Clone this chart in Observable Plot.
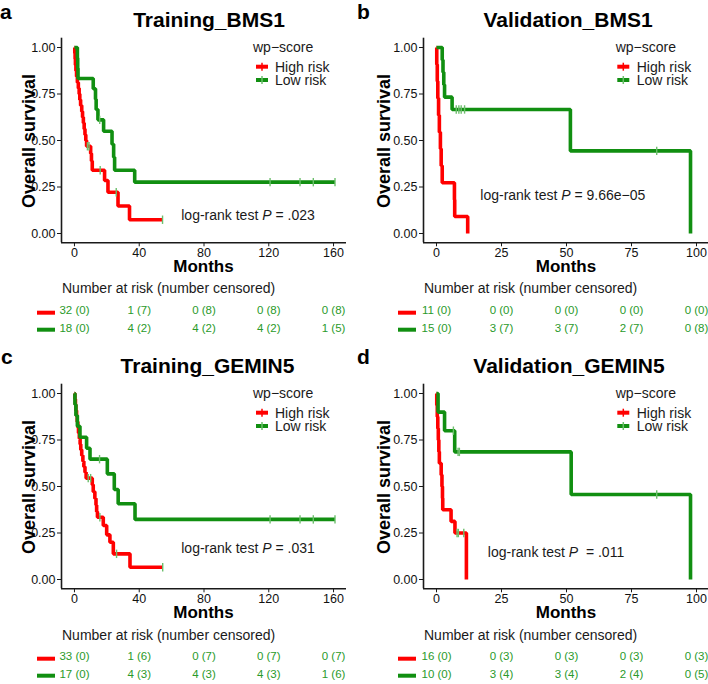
<!DOCTYPE html>
<html>
<head>
<meta charset="utf-8">
<script src="https://cdn.jsdelivr.net/npm/d3@7"></script>
<script src="https://cdn.jsdelivr.net/npm/@observablehq/plot@0.6"></script>
<style>
  body { margin: 0; background: #fff; }
  #fig { position: relative; width: 708px; height: 684px; overflow: hidden; background: #fff; }
</style>
</head>
<body>
<div id="fig"></div>
<script>
// ---------------- DATA ----------------
const groups = ["High risk", "Low risk"];
const yTicks = [0, 0.25, 0.5, 0.75, 1];
const yDomain = [-0.05, 1.05];
const trainTicks = [0, 40, 80, 120, 160];
const validTicks = [0, 25, 50, 75, 100];

// Kaplan-Meier steps: [months, survival]
const aHigh = [[0,1],[0.2,0.969],[0.4,0.938],[0.6,0.906],[0.9,0.875],[1.3,0.844],[1.8,0.812],[2.4,0.781],[2.9,0.75],[3.3,0.719],[3.8,0.688],[4.5,0.656],[5.0,0.625],[5.5,0.594],[6.0,0.562],[6.5,0.531],[7.0,0.5],[7.5,0.469],[10.0,0.43],[10.5,0.39],[11.0,0.34],[18.6,0.285],[20.7,0.222],[26.9,0.148],[34.0,0.074],[54.4,0.074]];
const aHighCens = [8.0, 9.0, 15.9, 25.8, 54.4];
const aLow = [[0,1],[1.8,0.944],[2.0,0.889],[2.2,0.833],[11.6,0.778],[13.0,0.722],[13.4,0.667],[14.5,0.611],[18.0,0.55],[23.2,0.48],[24.2,0.41],[24.8,0.34],[37.2,0.276],[160.9,0.276]];
const aLowCens = [15.6, 120.8, 139.3, 147.5, 160.9];

const bHigh = [[0,1],[0.1,0.909],[0.3,0.818],[0.5,0.727],[0.8,0.636],[1.1,0.545],[1.5,0.455],[1.8,0.364],[2.2,0.273],[6.9,0.182],[7.0,0.091],[12.0,0]];
const bHighCens = [];
const bLow = [[0,1],[2.2,0.933],[2.5,0.867],[2.8,0.8],[3.1,0.733],[6.0,0.667],[51.5,0.444],[97.7,0]];
const bLowCens = [7.6, 8.6, 9.5, 10.8, 84.7];

const cHigh = [[0,1],[0.3,0.97],[0.6,0.939],[0.9,0.909],[1.3,0.879],[1.7,0.848],[2.1,0.818],[2.5,0.788],[3.0,0.758],[3.5,0.727],[3.9,0.697],[4.5,0.667],[5.2,0.636],[5.8,0.606],[6.5,0.576],[7.2,0.545],[11.0,0.509],[11.6,0.472],[12.6,0.436],[13.3,0.4],[13.7,0.364],[14.2,0.335],[17.8,0.29],[19.9,0.24],[21.9,0.2],[24.0,0.138],[34.3,0.066],[54.5,0.066]];
const cHighCens = [8.5, 10.0, 15.7, 26.0, 54.5];
const cLow = [[0,1],[0.3,0.941],[0.9,0.882],[1.8,0.824],[3.4,0.765],[7.5,0.706],[9.6,0.647],[20.3,0.568],[24.6,0.484],[27.0,0.407],[37.4,0.323],[160.9,0.323]];
const cLowCens = [15.5, 120.8, 139.3, 147.5, 160.9];

const dHigh = [[0,1],[0.1,0.9375],[0.3,0.875],[0.5,0.8125],[0.7,0.75],[0.9,0.6875],[1.1,0.625],[1.8,0.5625],[2.1,0.5],[2.3,0.4375],[2.4,0.375],[5.6,0.3125],[7.1,0.25],[11.5,0]];
const dHighCens = [7.9, 8.4, 10.5];
const dLow = [[0,1],[0.6,0.9],[3.1,0.8],[7.0,0.686],[51.8,0.457],[97.7,0]];
const dLowCens = [6.5, 8.3, 8.8, 84.7];

// Number at risk (number censored)
const aRiskHigh = ["32 (0)", "1 (7)", "0 (8)", "0 (8)", "0 (8)"];
const aRiskLow  = ["18 (0)", "4 (2)", "4 (2)", "4 (2)", "1 (5)"];
const bRiskHigh = ["11 (0)", "0 (0)", "0 (0)", "0 (0)", "0 (0)"];
const bRiskLow  = ["15 (0)", "3 (7)", "3 (7)", "2 (7)", "0 (8)"];
const cRiskHigh = ["33 (0)", "1 (6)", "0 (7)", "0 (7)", "0 (7)"];
const cRiskLow  = ["17 (0)", "4 (3)", "4 (3)", "4 (3)", "1 (6)"];
const dRiskHigh = ["16 (0)", "0 (3)", "0 (3)", "0 (3)", "0 (3)"];
const dRiskLow  = ["10 (0)", "3 (4)", "3 (4)", "2 (4)", "0 (5)"];

const titles = ["Training_BMS1", "Validation_BMS1", "Training_GEMIN5", "Validation_GEMIN5"];
const letters = ["a", "b", "c", "d"];
const pTexts = [" = .023", " = 9.66e\u221205", " = .031", "  = .011"];

// ---------------- STYLE ----------------
const FONT = "'Liberation Sans', Arial, Helvetica, sans-serif";
const RED = "#ff0000";
const GREEN = "#118f11";
const CENS = "#6cbf6c";
const RISKTXT = "#2a9a2a";
const INK = "#1a1a1a";

function stepValue(curve, t) {
  let v = curve[0][1];
  for (const [ti, si] of curve) if (ti <= t) v = si;
  return v;
}

const vbar = {
  draw(ctx, size) {
    const r = Math.sqrt(size / Math.PI);
    ctx.moveTo(0, -r);
    ctx.lineTo(0, r);
  }
};

const panels = [
  {left: 0,   top: 0,   width: 354, ml: 61, mr: 8, xDomain: [-8, 168], ticks: trainTicks,
   high: aHigh, low: aLow, highCens: aHighCens, lowCens: aLowCens, riskHigh: aRiskHigh, riskLow: aRiskLow,
   letterX: 0, letterY: 18.5, titleX: 209, legX: 253, keyX: 256, textX: 275, pX: 248, pY: 220, ylabX: 35, nrX: 62, nrY: 292.7, rkX: 37},
  {left: 354, top: 0,   width: 355, ml: 69, mr: 0, xDomain: [-5, 105], ticks: validTicks,
   high: bHigh, low: bLow, highCens: bHighCens, lowCens: bLowCens, riskHigh: bRiskHigh, riskLow: bRiskLow,
   letterX: 3, letterY: 18.5, titleX: 214, legX: 261.7, keyX: 263.3, textX: 282.7, pX: 208.8, pY: 200, ylabX: 36, nrX: 70, nrY: 293.3, rkX: 44},
  {left: 0,   top: 346, width: 354, ml: 61, mr: 8, xDomain: [-8, 168], ticks: trainTicks,
   high: cHigh, low: cLow, highCens: cHighCens, lowCens: cLowCens, riskHigh: cRiskHigh, riskLow: cRiskLow,
   letterX: 1, letterY: 17.5, titleX: 207.5, legX: 253, keyX: 256, textX: 275, pX: 248, pY: 207.3, ylabX: 35, nrX: 62, nrY: 293.5, rkX: 37},
  {left: 354, top: 346, width: 355, ml: 69, mr: 0, xDomain: [-5, 105], ticks: validTicks,
   high: dHigh, low: dLow, highCens: dHighCens, lowCens: dLowCens, riskHigh: dRiskHigh, riskLow: dRiskLow,
   letterX: 3, letterY: 17.5, titleX: 215, legX: 261.7, keyX: 263.3, textX: 282.7, pX: 202, pY: 211.3, ylabX: 36, nrX: 70, nrY: 294, rkX: 44}
];

const fig = document.getElementById("fig");
const H = 340, FT = 37.7, FB = 242.3;

panels.forEach((p, i) => {
  const lines = [
    ...p.high.map(([t, s]) => ({t, s, g: groups[0]})),
    ...p.low.map(([t, s]) => ({t, s, g: groups[1]}))
  ];
  const cens = [
    ...p.highCens.map(t => ({t, s: stepValue(p.high, t), g: groups[0]})),
    ...p.lowCens.map(t => ({t, s: stepValue(p.low, t), g: groups[1]}))
  ];
  const riskH = p.ticks.map((t, k) => ({t, label: p.riskHigh[k]}));
  const riskL = p.ticks.map((t, k) => ({t, label: p.riskLow[k]}));

  const svg = Plot.plot({
    width: p.width, height: H,
    marginLeft: p.ml, marginRight: p.mr, marginTop: FT, marginBottom: H - FB,
    style: {fontFamily: FONT, fontSize: "12px", color: INK, background: "transparent", overflow: "visible"},
    x: {domain: p.xDomain, label: null},
    y: {domain: yDomain, label: null},
    color: {domain: groups, range: [RED, GREEN]},
    marks: [
      Plot.axisX({ticks: p.ticks, tickSize: 4, tickPadding: 1, fontSize: 12.5, label: null, stroke: INK, fill: "#111"}),
      Plot.axisY({ticks: yTicks, tickFormat: d3.format(".2f"), tickSize: 4, tickPadding: 2, fontSize: 12.5, label: null, stroke: INK, fill: "#111"}),
      Plot.ruleX([p.xDomain[0]], {stroke: INK, strokeWidth: 1.6}),
      Plot.ruleY([yDomain[0]], {stroke: INK, strokeWidth: 1.6}),
      Plot.line(lines, {x: "t", y: "s", z: "g", stroke: "g", curve: "step-after", strokeWidth: 3.6, strokeLinejoin: "miter", strokeLinecap: "butt"}),
      Plot.dot(cens, {x: "t", y: "s", symbol: vbar, r: 4.2, stroke: CENS, strokeWidth: 1.4, fill: "none"}),
      Plot.text(riskH, {x: "t", text: "label", frameAnchor: "bottom", dy: 70.9, fill: RISKTXT, fontSize: 11.5}),
      Plot.text(riskL, {x: "t", text: "label", frameAnchor: "bottom", dy: 89.2, fill: RISKTXT, fontSize: 11.5})
    ]
  });
  svg.style.position = "absolute";
  svg.style.left = p.left + "px";
  svg.style.top = p.top + "px";
  fig.appendChild(svg);

  const s = d3.select(svg);
  const txt = (x, y, str, o = {}) => s.append("text")
    .attr("x", x).attr("y", y)
    .attr("font-family", FONT)
    .attr("font-size", o.size || 14)
    .attr("font-weight", o.weight || "normal")
    .attr("text-anchor", o.anchor || "start")
    .attr("fill", o.fill || INK)
    .style("white-space", "pre")
    .text(str);

  // panel letter and title
  txt(p.letterX, p.letterY, letters[i], {size: 21, weight: "bold", fill: "#000"});
  txt(p.titleX, 27.3, titles[i], {size: 21, weight: "bold", anchor: "middle", fill: "#000"});

  // axis titles
  const fx0 = p.ml, fx1 = p.width - p.mr;
  txt((fx0 + fx1) / 2, 271.7, "Months", {size: 17, weight: "bold", anchor: "middle", fill: "#000"});
  s.append("text")
    .attr("transform", `translate(${p.ylabX},141) rotate(-90)`)
    .attr("font-family", FONT).attr("font-size", 18).attr("font-weight", "bold")
    .attr("text-anchor", "middle").attr("fill", "#000")
    .text("Overall survival");

  // legend
  txt(p.legX, 51.7, "wp\u2212score", {size: 14});
  const keyY = [66.7, 80], textY = [71.5, 84.8], cols = [RED, GREEN], tickCols = [RED, CENS];
  groups.forEach((g, k) => {
    s.append("line").attr("x1", p.keyX).attr("x2", p.keyX + 12).attr("y1", keyY[k]).attr("y2", keyY[k])
      .attr("stroke", cols[k]).attr("stroke-width", 4);
    s.append("line").attr("x1", p.keyX + 6).attr("x2", p.keyX + 6).attr("y1", keyY[k] - 4).attr("y2", keyY[k] + 4)
      .attr("stroke", tickCols[k]).attr("stroke-width", 1.5);
    txt(p.textX, textY[k], g, {size: 14});
  });

  // log-rank annotation
  const t = s.append("text").attr("x", p.pX).attr("y", p.pY)
    .attr("font-family", FONT).attr("font-size", 14).attr("text-anchor", "middle")
    .attr("fill", INK).style("white-space", "pre");
  t.append("tspan").text("log-rank test ");
  t.append("tspan").attr("font-style", "italic").text("P");
  t.append("tspan").text(pTexts[i]);

  // risk table header and keys
  txt(p.nrX, p.nrY, "Number at risk (number censored)", {size: 14});
  const rkY = [312.7, 329.7];
  groups.forEach((g, k) => {
    s.append("line").attr("x1", p.rkX).attr("x2", p.rkX + 18).attr("y1", rkY[k]).attr("y2", rkY[k])
      .attr("stroke", cols[k]).attr("stroke-width", 4);
  });
});
</script>
</body>
</html>
